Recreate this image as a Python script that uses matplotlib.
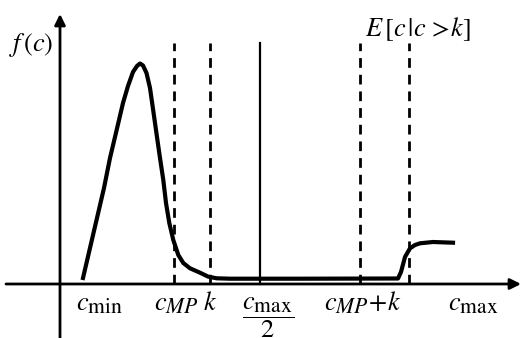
import numpy as np
import matplotlib.pyplot as plt
import matplotlib._mathtext as mt

plt.rcParams['mathtext.fontset'] = 'stix'
plt.rcParams['font.family'] = 'STIXGeneral'
mt.SHRINK_FACTOR = 0.82  # større senket skrift, som i Word-formler

# Kurvepunkter lest av figuren (c, f(c))
c_kurve = [23, 30, 37, 44, 50, 55, 59, 63, 68, 73, 77, 80, 83, 86.5, 90, 93.3, 96.7,
           100, 103.3, 106, 109.3, 113.3, 118.3, 123.3, 130, 140, 148.3, 156.7, 170,
           240, 338, 341, 345, 350, 355, 360, 373, 393]
f_kurve = [6, 36, 66, 96, 126, 147, 164, 181, 198, 212, 218, 220.5, 218.5, 211, 196,
           173, 149, 126, 104, 81, 61, 44, 29, 21, 15.7, 11.3, 7.3, 5.7, 5.3,
           5.3, 5.5, 12, 27, 35.7, 39, 40.7, 42, 41.3]

# Vertikale linjer
c_stiplet = [114, 150, 300, 349]
c_hel = [200]
topp = 241

# Etiketter på x-aksen
etikett_x = [40, 116, 150, 303, 413]
etiketter = [r'$c_{\mathrm{min}}$', r'$c_{MP}$', r'$k$', r'$c_{MP}\!+\!k$', r'$c_{\mathrm{max}}$']

fig = plt.figure(figsize=(5.21, 3.38), dpi=100)
ax = fig.add_axes([0, 0, 1, 1])
ax.set_xlim(-60, 461)
ax.set_ylim(-54, 284)
ax.axis('off')

# Akser med piler
pil = dict(arrowstyle='-|>', lw=2, color='black', mutation_scale=16, shrinkA=0, shrinkB=0)
ax.annotate('', xy=(461, 0), xytext=(-54, 0), arrowprops=pil)
ax.annotate('', xy=(0, 270), xytext=(0, -54), arrowprops=pil)

for c in c_stiplet:
    ax.plot([c, c], [0, topp], color='black', lw=2, ls=(0, (3.5, 2.5)))
for c in c_hel:
    ax.plot([c, c], [0, topp], color='black', lw=1.6)

ax.plot(c_kurve, f_kurve, color='black', lw=3, solid_joinstyle='round')

for x, t in zip(etikett_x, etiketter):
    ax.text(x, -26, t, ha='center', va='baseline', fontsize=19)
ax.text(208, -34, r'$\dfrac{c_{\mathrm{max}}}{2}$', ha='center', va='center', fontsize=19)

ax.text(-29, 239, r'$f\,(c)$', ha='center', va='center', fontsize=19)
ax.text(305, 248, r'$E\,[c\,|c\,>\!k]$', ha='left', va='baseline', fontsize=19)

fig.savefig('out.png', dpi=100)
